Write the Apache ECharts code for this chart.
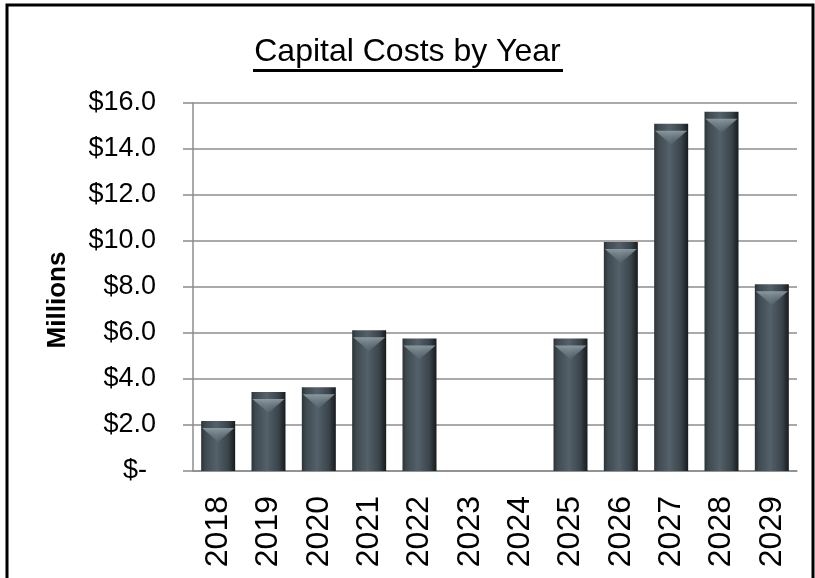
<!DOCTYPE html>
<html>
<head>
<meta charset="utf-8">
<title>Capital Costs by Year</title>
<script src="https://cdn.jsdelivr.net/npm/echarts@6/dist/echarts.min.js"></script>
<style>
    html, body { margin: 0; padding: 0; background: #fff; }
    #chart { width: 815px; height: 578px; }
</style>
</head>
<body>
<div id="chart"></div>
<script>
// 数据
const years = ['2018', '2019', '2020', '2021', '2022', '2023', '2024', '2025', '2026', '2027', '2028', '2029'];
const costs = [2.17, 3.43, 3.64, 6.12, 5.76, 0, 0, 5.76, 9.96, 15.1, 15.62, 8.12];
const yMin = 0, yMax = 16, yStep = 2;

// 没有 Arial Narrow，用 Liberation Sans 代替
const font = "'Liberation Sans', Arial, sans-serif";

var chart = echarts.init(document.getElementById('chart'));
var option = {
    animation: false,
    backgroundColor: '#fff',
    title: {
        text: 'Capital Costs by Year',
        left: 'center',
        top: 31,
        textStyle: {
            fontFamily: font,
            fontSize: 32,
            fontWeight: 'normal',
            color: '#000'
        }
    },
    graphic: [
        {
            // 外框
            type: 'rect',
            shape: { x: 7, y: 5, width: 806, height: 600 },
            style: { fill: 'none', stroke: '#000', lineWidth: 3 }
        },
        {
            // 标题下划线
            type: 'rect',
            shape: { x: 253, y: 69, width: 310, height: 3 },
            style: { fill: '#000' }
        }
    ],
    grid: {
        left: 193,
        right: 18,
        top: 103,
        bottom: 107
    },
    xAxis: {
        type: 'category',
        data: years,
        axisLine: { lineStyle: { color: '#8c8c8c', width: 1.5 } },
        axisTick: { length: 12, lineStyle: { color: '#8c8c8c', width: 1.5 } },
        axisLabel: {
            rotate: 90,
            margin: 25,
            fontFamily: font,
            fontSize: 32,
            color: '#000'
        }
    },
    yAxis: {
        type: 'value',
        min: yMin,
        max: yMax,
        interval: yStep,
        name: 'Millions',
        nameLocation: 'middle',
        nameGap: 122,
        nameTextStyle: {
            fontFamily: font,
            fontSize: 26,
            fontWeight: 'bold',
            color: '#000',
            padding: [0, 26, 0, 0]
        },
        axisLine: { show: true, lineStyle: { color: '#8c8c8c', width: 1.5 } },
        axisTick: { show: true, inside: false, length: 10, lineStyle: { color: '#8c8c8c', width: 1.5 } },
        splitLine: { lineStyle: { color: '#8c8c8c', width: 1.5 } },
        axisLabel: {
            margin: 37,
            formatter: function (v) {
                return v === 0 ? '{z|$-}' : '{v|$' + v.toFixed(1) + '}';
            },
            rich: {
                v: { fontFamily: font, fontSize: 27, color: '#000' },
                z: { fontFamily: font, fontSize: 27, color: '#000', padding: [0, 9, 0, 0] }
            }
        }
    },
    series: [
        {
            type: 'bar',
            data: costs,
            barWidth: 34,
            itemStyle: {
                color: new echarts.graphic.LinearGradient(0, 0, 1, 0, [
                    { offset: 0, color: '#2b3337' },
                    { offset: 0.12, color: '#3f4a50' },
                    { offset: 0.45, color: '#54616a' },
                    { offset: 0.8, color: '#39434a' },
                    { offset: 1, color: '#161b1d' }
                ])
            },
            z: 2
        },
        {
            // 柱顶高光
            type: 'pictorialBar',
            data: costs.map(function (v) { return v > 0 ? v : '-'; }),
            symbol: 'path://M0,0 L10,0 L5,5 Z',
            symbolSize: [32, 14],
            symbolPosition: 'end',
            symbolOffset: [0, '50%'],
            barGap: '-100%',
            itemStyle: {
                color: new echarts.graphic.LinearGradient(0, 0, 0, 1, [
                    { offset: 0, color: 'rgba(150,165,172,0.85)' },
                    { offset: 1, color: 'rgba(110,125,133,0.2)' }
                ])
            },
            z: 3,
            silent: true
        }
    ]
};
chart.setOption(option);
</script>
</body>
</html>
